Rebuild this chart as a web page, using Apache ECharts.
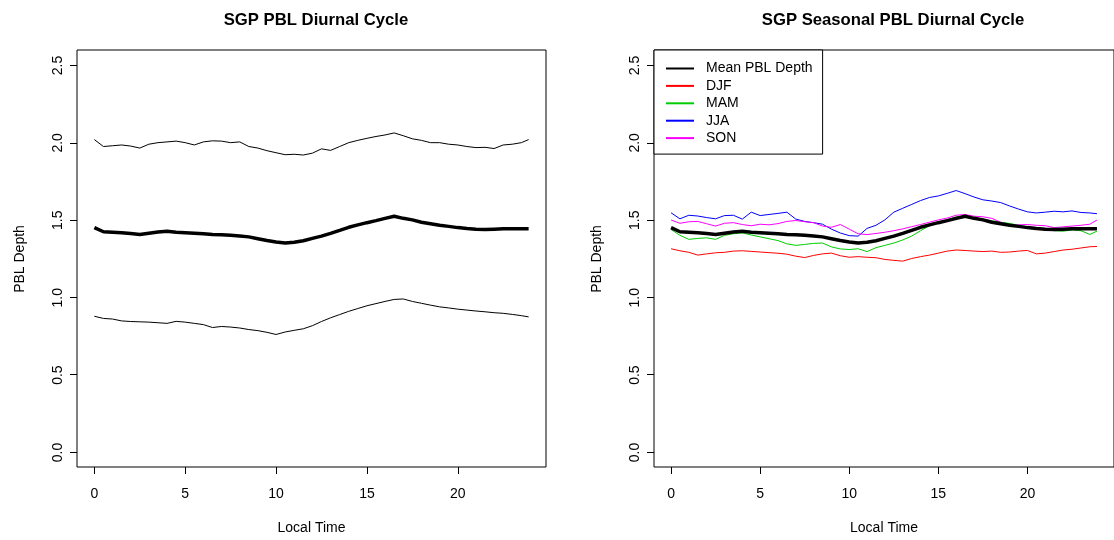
<!DOCTYPE html>
<html style="height: 100%">
<head>
  <meta charset="UTF-8">
  <title>SGP PBL Diurnal Cycle</title>
  <script src="https://cdn.jsdelivr.net/npm/echarts@6/dist/echarts.min.js"></script>
  <style>
    html, body { margin: 0; padding: 0; background: #fff; }
    #main { width: 1114px; height: 540px; }
  </style>
</head>
<body>
<div id="main"></div>
<script type="text/javascript">
// local time, hours
var hours = [0, 0.5, 1, 1.5, 2, 2.5, 3, 3.5, 4, 4.5, 5, 5.5, 6, 6.5, 7, 7.5, 8, 8.5, 9, 9.5,
  10, 10.5, 11, 11.5, 12, 12.5, 13, 13.5, 14, 14.5, 15, 15.5, 16, 16.5, 17, 17.5, 18, 18.5, 19, 19.5,
  20, 20.5, 21, 21.5, 22, 22.5, 23, 23.5, 23.9];

var meanDepth = [1.450, 1.423, 1.420, 1.417, 1.412, 1.406, 1.414, 1.422, 1.427, 1.420, 1.417, 1.414, 1.410, 1.405, 1.403, 1.400, 1.396, 1.390, 1.378, 1.366,
  1.357, 1.350, 1.355, 1.365, 1.380, 1.395, 1.413, 1.432, 1.452, 1.468, 1.482, 1.495, 1.510, 1.524, 1.510, 1.500, 1.485, 1.475, 1.465, 1.458,
  1.450, 1.444, 1.440, 1.438, 1.440, 1.442, 1.442, 1.443, 1.443];

var upperDepth = [2.020, 1.975, 1.980, 1.985, 1.978, 1.965, 1.990, 2.000, 2.005, 2.010, 2.000, 1.985, 2.005, 2.012, 2.010, 2.000, 2.005, 1.975, 1.965, 1.948,
  1.935, 1.922, 1.925, 1.920, 1.932, 1.960, 1.950, 1.975, 2.000, 2.015, 2.028, 2.040, 2.050, 2.063, 2.045, 2.025, 2.015, 2.000, 2.000, 1.990,
  1.985, 1.975, 1.968, 1.970, 1.962, 1.985, 1.990, 2.000, 2.020];

var lowerDepth = [0.876, 0.862, 0.858, 0.846, 0.842, 0.840, 0.838, 0.834, 0.830, 0.843, 0.838, 0.830, 0.822, 0.803, 0.810, 0.806, 0.800, 0.790, 0.783, 0.772,
  0.758, 0.774, 0.785, 0.795, 0.815, 0.842, 0.866, 0.887, 0.908, 0.926, 0.944, 0.958, 0.972, 0.985, 0.988, 0.972, 0.960, 0.948, 0.937, 0.930,
  0.922, 0.916, 0.910, 0.905, 0.899, 0.895, 0.888, 0.880, 0.872];

var djf = [1.313, 1.300, 1.290, 1.272, 1.280, 1.287, 1.290, 1.298, 1.300, 1.296, 1.292, 1.288, 1.284, 1.278, 1.265, 1.256, 1.270, 1.280, 1.285, 1.268,
  1.258, 1.262, 1.258, 1.255, 1.244, 1.238, 1.233, 1.250, 1.262, 1.272, 1.285, 1.298, 1.305, 1.302, 1.298, 1.295, 1.298, 1.290, 1.292, 1.298,
  1.302, 1.280, 1.285, 1.295, 1.305, 1.310, 1.318, 1.326, 1.328];

var mam = [1.438, 1.400, 1.374, 1.380, 1.384, 1.374, 1.400, 1.410, 1.416, 1.402, 1.390, 1.378, 1.366, 1.345, 1.335, 1.341, 1.348, 1.350, 1.325, 1.312,
  1.308, 1.313, 1.295, 1.320, 1.335, 1.350, 1.370, 1.395, 1.430, 1.462, 1.482, 1.500, 1.520, 1.522, 1.514, 1.505, 1.494, 1.485, 1.477, 1.465,
  1.455, 1.445, 1.438, 1.430, 1.427, 1.435, 1.430, 1.406, 1.427];

var jja = [1.546, 1.507, 1.530, 1.525, 1.515, 1.507, 1.528, 1.530, 1.505, 1.550, 1.528, 1.535, 1.542, 1.550, 1.505, 1.490, 1.482, 1.472, 1.440, 1.415,
  1.398, 1.395, 1.445, 1.465, 1.500, 1.550, 1.575, 1.600, 1.625, 1.645, 1.655, 1.672, 1.690, 1.670, 1.648, 1.630, 1.622, 1.612, 1.590, 1.570,
  1.552, 1.545, 1.550, 1.556, 1.552, 1.558, 1.548, 1.545, 1.540];

var son = [1.499, 1.478, 1.488, 1.490, 1.475, 1.460, 1.478, 1.482, 1.470, 1.462, 1.472, 1.468, 1.476, 1.490, 1.496, 1.488, 1.482, 1.460, 1.452, 1.470,
  1.440, 1.410, 1.405, 1.412, 1.420, 1.430, 1.442, 1.456, 1.470, 1.485, 1.500, 1.512, 1.530, 1.535, 1.524, 1.520, 1.510, 1.485, 1.462, 1.468,
  1.470, 1.465, 1.462, 1.450, 1.455, 1.460, 1.465, 1.472, 1.499];

var xTicks = [0, 5, 10, 15, 20];
var yTicks = [0, 0.5, 1, 1.5, 2, 2.5];

function pairs(ys) {
  var out = [];
  for (var i = 0; i < hours.length; i++) {
    out.push([hours[i], ys[i]]);
  }
  return out;
}

var font = 'Liberation Sans, Arial, sans-serif';
var txt = { color: '#000', fontSize: 14, fontFamily: font };

// plot boxes (R style: data range padded by 4%)
var boxTop = 50, boxBottom = 72;
var yPad = 418 * 0.1 / 2.7;   // 0.1 units of padding in pixels
var tickLen = 7;
var xMin = -0.956, xMax = 24.856;

function makeX(idx) {
  return {
    gridIndex: idx,
    type: 'value',
    min: xMin,
    max: xMax,
    name: 'Local Time',
    nameLocation: 'middle',
    nameGap: 54,
    nameTextStyle: txt,
    axisLine: { show: false, onZero: false },
    splitLine: { show: false },
    axisTick: { show: true, length: tickLen, customValues: xTicks, lineStyle: { color: '#000' } },
    axisLabel: { customValues: xTicks, margin: 20, color: '#000', fontSize: 14, fontFamily: font }
  };
}

// data y axis, padded range, no decorations
function makeY(idx) {
  return {
    gridIndex: idx,
    type: 'value',
    min: -0.1,
    max: 2.6,
    axisLine: { show: false, onZero: false },
    axisTick: { show: false },
    axisLabel: { show: false },
    splitLine: { show: false }
  };
}

// label axis 0..2.5 on a grid inset by the padding
function makeLabelY(idx) {
  return {
    gridIndex: idx,
    type: 'value',
    min: 0,
    max: 2.5,
    interval: 0.5,
    name: 'PBL Depth',
    nameLocation: 'middle',
    nameGap: 50,
    nameTextStyle: txt,
    axisLine: { show: false, onZero: false },
    splitLine: { show: false },
    axisTick: { show: false },
    axisLabel: {
      rotate: 90, margin: 12, color: '#000', fontSize: 14, fontFamily: font,
      formatter: function (v) { return v.toFixed(1); }
    }
  };
}

function hiddenX(idx) {
  return { gridIndex: idx, type: 'value', show: false, min: 0, max: 1 };
}

function line(name, idx, ys, color, width) {
  return {
    name: name,
    type: 'line',
    xAxisIndex: idx,
    yAxisIndex: idx,
    data: pairs(ys),
    symbol: 'none',
    animation: false,
    lineStyle: { color: color, width: width },
    itemStyle: { color: color }
  };
}

var myChart = echarts.init(document.getElementById('main'));
var option = {
  backgroundColor: '#fff',
  animation: false,
  title: [
    { text: 'SGP PBL Diurnal Cycle', left: 311, top: 7, textAlign: 'center',
      textStyle: { fontSize: 16.7, fontWeight: 'bold', color: '#000', fontFamily: font } },
    { text: 'SGP Seasonal PBL Diurnal Cycle', left: 888, top: 7, textAlign: 'center',
      textStyle: { fontSize: 16.7, fontWeight: 'bold', color: '#000', fontFamily: font } }
  ],
  legend: {
    orient: 'vertical',
    left: 654,
    top: 50,
    padding: [11.5, 10, 9, 11],
    itemGap: 3.4,
    itemWidth: 28,
    itemHeight: 14,
    borderColor: '#000',
    borderWidth: 1,
    backgroundColor: '#fff',
    selectedMode: false,
    itemStyle: { opacity: 0 },
    textStyle: { color: '#000', fontSize: 14, fontFamily: font, padding: [0, 0, 0, 7] },
    data: ['Mean PBL Depth', 'DJF', 'MAM', 'JJA', 'SON']
  },
  grid: [
    { left: 77, right: 568, top: boxTop, bottom: boxBottom, show: true, borderColor: '#000', borderWidth: 1, backgroundColor: 'transparent' },
    { left: 654, right: -9, top: boxTop, bottom: boxBottom, show: true, borderColor: '#000', borderWidth: 1, backgroundColor: 'transparent' },
    { left: 77, right: 568, top: boxTop + yPad, bottom: boxBottom + yPad, show: false },
    { left: 654, right: -9, top: boxTop + yPad, bottom: boxBottom + yPad, show: false }
  ],
  xAxis: [makeX(0), makeX(1), hiddenX(2), hiddenX(3)],
  yAxis: [makeY(0), makeY(1), makeLabelY(2), makeLabelY(3)],
  series: [
    line('upper', 0, upperDepth, '#000', 1),
    line('lower', 0, lowerDepth, '#000', 1),
    line('mean', 0, meanDepth, '#000', 3.5),
    line('DJF', 1, djf, '#ff0000', 1),
    line('MAM', 1, mam, '#00cd00', 1),
    line('JJA', 1, jja, '#0000ff', 1),
    line('SON', 1, son, '#ff00ff', 1),
    line('Mean PBL Depth', 1, meanDepth, '#000', 3.5)
  ]
};
myChart.setOption(option);

// y ticks, placed through the axis scales
var tickLines = [];
[0, 1].forEach(function (idx) {
  var left = Math.round(myChart.convertToPixel({ xAxisIndex: idx }, xMin));
  yTicks.forEach(function (v) {
    var y = Math.round(myChart.convertToPixel({ yAxisIndex: idx }, v)) + 0.5;
    tickLines.push({
      type: 'line',
      silent: true,
      z: 100,
      shape: { x1: left - tickLen, y1: y, x2: left, y2: y },
      style: { stroke: '#000', lineWidth: 1 }
    });
  });
});
myChart.setOption({ graphic: { elements: tickLines } });
</script>
</body>
</html>
